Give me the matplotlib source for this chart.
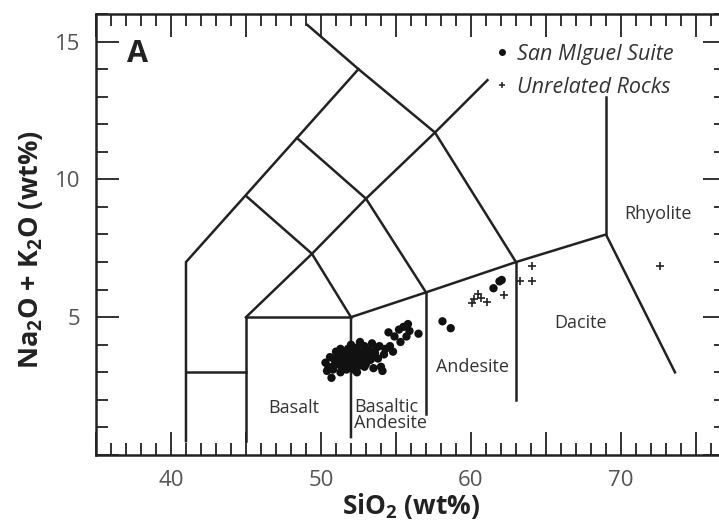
import matplotlib.pyplot as plt
from matplotlib.ticker import MultipleLocator
from matplotlib.lines import Line2D

plt.rcParams['font.family'] = ['Open Sans', 'DejaVu Sans']
plt.rcParams['mathtext.fontset'] = 'custom'
plt.rcParams['mathtext.rm'] = 'Open Sans'
plt.rcParams['mathtext.bf'] = 'Open Sans:bold'

# TAS field boundaries (SiO2, Na2O+K2O)
tas_lines = [
    [(41, 0.5), (41, 7), (52.5, 14), (49.1, 15.6)],
    [(41, 3), (45, 3)],
    [(45, 0.5), (45, 5), (52, 5)],
    [(52, 0.65), (52, 5), (57, 5.9), (63, 7), (69, 8), (73.6, 3)],
    [(57, 1.5), (57, 5.9)],
    [(63, 2.0), (63, 7)],
    [(69, 8), (69, 13)],
    [(45, 5), (49.4, 7.3), (53, 9.3), (57.6, 11.7), (61.1, 13.6)],
    [(52, 5), (49.4, 7.3), (45, 9.4)],
    [(57, 5.9), (53, 9.3), (48.4, 11.5)],
    [(63, 7), (57.6, 11.7), (52.5, 14)],
]

# San Miguel Suite
sm_sio2 = [50.7, 50.3, 50.5, 50.8, 50.9, 51.1, 51.2, 51.3, 51.4, 51.5,
           51.6, 51.7, 51.8, 51.9, 52.0, 52.1, 52.2, 52.3, 52.4, 52.5,
           52.6, 52.7, 52.8, 52.9, 53.0, 53.1, 53.2, 53.3, 53.4, 53.6,
           53.7, 53.8, 54.0, 54.1, 54.3, 54.6, 54.8, 54.5, 54.9, 55.2,
           55.5, 55.8, 55.9, 55.7, 56.5, 50.6, 51.0, 51.3, 52.0, 52.6,
           53.5, 52.2, 51.7, 52.9, 53.0, 52.4, 50.4, 51.0, 51.5, 51.9,
           52.3, 52.7, 53.2, 53.9, 51.2, 51.8, 52.5, 53.3, 50.9, 51.4,
           51.6, 52.1, 52.8, 53.1, 53.6, 54.2, 51.1, 52.4, 53.4, 55.3,
           58.1, 58.65, 61.9, 62.05, 61.5]
sm_alk = [2.8, 3.35, 3.2, 3.1, 3.45, 3.3, 3.55, 3.0, 3.7, 3.4,
          3.2, 3.6, 3.85, 3.3, 3.5, 3.75, 3.1, 3.6, 3.9, 3.4,
          3.25, 3.7, 3.5, 3.95, 3.3, 3.6, 3.8, 3.45, 4.05, 3.7,
          3.9, 3.5, 3.2, 3.05, 3.85, 3.95, 3.75, 4.45, 4.3, 4.55,
          4.65, 4.75, 4.5, 4.3, 4.4, 3.55, 3.75, 3.85, 4.0, 4.1,
          3.15, 3.45, 3.1, 3.2, 3.85, 3.0, 3.05, 3.5, 3.6, 3.65,
          3.35, 3.55, 3.6, 3.95, 3.4, 3.5, 3.65, 3.75, 3.25, 3.15,
          3.45, 3.25, 3.35, 3.45, 3.55, 3.65, 3.55, 3.75, 3.65, 4.1,
          4.85, 4.6, 6.3, 6.35, 6.05]

# Unrelated Rocks
ur_sio2 = [60.2, 60.5, 60.1, 60.7, 61.1, 62.2, 63.3, 64.1, 64.1, 72.6]
ur_alk = [5.66, 5.84, 5.5, 5.7, 5.55, 5.8, 6.3, 6.3, 6.86, 6.86]

fields = [('Rhyolite', 72.5, 8.75, 'center'), ('Dacite', 67.3, 4.8, 'center'),
          ('Andesite', 60.1, 3.2, 'center'), ('Basalt', 48.2, 1.7, 'center'),
          ('Basaltic\nAndesite', 52.2, 1.45, 'left')]

line_col = '#222222'
fig = plt.figure(figsize=(7.19, 5.24), dpi=100)
ax = fig.add_axes([0.1335, 0.1317, 0.8762, 0.8416])

for seg in tas_lines:
    xs = [p[0] for p in seg]
    ys = [p[1] for p in seg]
    ax.plot(xs, ys, color=line_col, lw=1.8, solid_joinstyle='miter')

ax.scatter(sm_sio2, sm_alk, s=36, color='#111111', edgecolors='none', zorder=3)
ax.scatter(ur_sio2, ur_alk, s=26, marker='+', color='#222222', linewidths=1.2, zorder=3)

for name, x, y, ha in fields:
    ax.text(x, y, name, ha=ha, va='center', fontsize=13, color='#333333', linespacing=0.9)

ax.text(0.05, 0.91, 'A', transform=ax.transAxes, fontsize=22, fontweight='bold',
        color='#222222', ha='left', va='center')

handles = [Line2D([], [], ls='none', marker='o', ms=4, color='#111111'),
           Line2D([], [], ls='none', marker='+', ms=5, mew=1.1, color='#222222')]
leg = ax.legend(handles, ['San MIguel Suite', 'Unrelated Rocks'], loc='upper left',
                bbox_to_anchor=(0.62, 0.952), frameon=False, handlelength=0.6,
                handletextpad=0.4, labelspacing=0.55, borderaxespad=0,
                prop={'style': 'italic', 'size': 15.5})
for t in leg.get_texts():
    t.set_color('#333333')

ax.set_xlim(35, 77)
ax.set_ylim(0, 16)
ax.xaxis.set_minor_locator(MultipleLocator(1))
ax.yaxis.set_minor_locator(MultipleLocator(1))
ax.set_xticks([35, 40, 45, 50, 55, 60, 65, 70, 75])
ax.set_xticklabels(['', '40', '', '50', '', '60', '', '70', ''])
ax.set_yticks([0, 5, 10, 15])
ax.set_yticklabels(['', '5', '10', '15'])

ax.tick_params(which='both', direction='in', top=True, right=True, color=line_col,
               labelcolor='#555555', labelsize=16)
ax.tick_params(which='major', length=16.5, width=1.3)
ax.tick_params(which='minor', length=8.5, width=1.3)
ax.tick_params(axis='x', pad=11)
ax.tick_params(axis='y', pad=11)
for sp in ax.spines.values():
    sp.set_linewidth(1.8)
    sp.set_color(line_col)

ax.set_xlabel(r'SiO$_\mathbf{2}$ (wt%)', fontsize=19, fontweight='bold', color='#222222', labelpad=0)
ax.set_ylabel(r'Na$_\mathbf{2}$O + K$_\mathbf{2}$O (wt%)', fontsize=19.5, fontweight='bold',
              color='#222222')
ax.yaxis.set_label_coords(-0.081, 0.465)

fig.savefig('out.png', dpi=100)
